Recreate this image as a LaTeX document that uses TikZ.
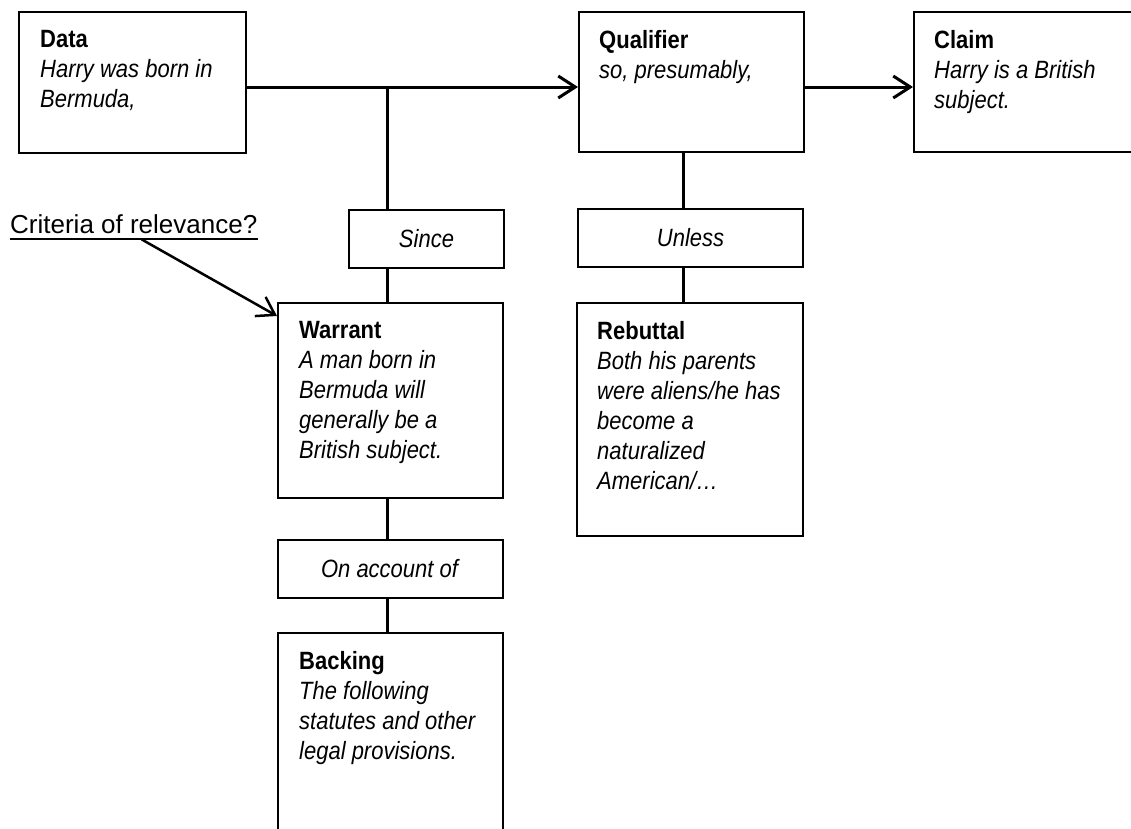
\documentclass[tikz,border=0pt]{standalone}
\usepackage{fontspec}
\setmainfont{Liberation Sans}[FakeStretch=0.88]
\newfontfamily\critfont{Liberation Sans}
\usetikzlibrary{arrows.meta, positioning}

\begin{document}
\begin{tikzpicture}[x=1pt, y=-1pt, font=\fontsize{25}{30}\selectfont,
    box/.style={draw, line width=2pt, inner sep=0pt},
    boxtext/.style={anchor=north west, inner sep=0pt, align=left, xshift=22pt, yshift=-19pt},
    link/.style={line width=3pt},
    arrow/.style={link, -{Straight Barb[length=17pt, width=22pt]}}]
    \clip (0,0) rectangle (1131,828);
    \fill[white] (0,0) rectangle (1131,828);
    % boxes
    \node[box, minimum width=227pt, minimum height=141pt] (data) at (132.5,82.5) {};
    \node[box, minimum width=225pt, minimum height=140pt] (qualifier) at (691.5,82) {};
    \node[box, minimum width=246pt, minimum height=140pt] (claim) at (1037,82) {};
    \node[box, minimum width=155pt, minimum height=58pt] (since) at (426.5,239) {\textit{Since}};
    \node[box, minimum width=225pt, minimum height=58pt] (unless) at (690.5,238) {\textit{Unless}};
    \node[box, minimum width=225pt, minimum height=195pt] (warrant) at (390.5,400.5) {};
    \node[box, minimum width=226pt, minimum height=233pt] (rebuttal) at (690,419.5) {};
    \node[box, minimum width=225pt, minimum height=58pt] (account) at (390.5,569) {\textit{On account of}};
    \node[box, minimum width=225pt, minimum height=237pt] (backing) at (390.5,751.5) {};
    % box texts
    \node[boxtext] (data-text) at (data.north west) {\textbf{Data}\\\textit{Harry was born in}\\\textit{Bermuda,}};
    \node[boxtext, xshift=-1pt] (qualifier-text) at (qualifier.north west) {\textbf{Qualifier}\\\textit{so, presumably,}};
    \node[boxtext, xshift=-1pt] (claim-text) at (claim.north west) {\textbf{Claim}\\\textit{Harry is a British}\\\textit{subject.}};
    \node[boxtext] (warrant-text) at (warrant.north west) {\textbf{Warrant}\\\textit{A man born in}\\\textit{Bermuda will}\\\textit{generally be a}\\\textit{British subject.}};
    \node[boxtext, xshift=-1pt] (rebuttal-text) at (rebuttal.north west) {\textbf{Rebuttal}\\\textit{Both his parents}\\\textit{were aliens/he has}\\\textit{become a}\\\textit{naturalized}\\\textit{American/…}};
    \node[boxtext] (backing-text) at (backing.north west) {\textbf{Backing}\\\textit{The following}\\\textit{statutes and other}\\\textit{legal provisions.}};
    \node[anchor=base west, inner xsep=0pt, inner ysep=6pt, font=\critfont\fontsize{26}{30}\selectfont] (criteria) at (10,233) {Criteria of relevance?};
    \draw[line width=2pt] (criteria.south west) -- (criteria.south east);
    % connectors
    \coordinate (join) at (387,87);
    \coordinate (q-foot) at ([xshift=-8.5pt]qualifier.south);
    \draw[link] (data.east |- join) -- (join);
    \draw[arrow] (join) -- (qualifier.west |- join);
    \draw[arrow] (qualifier.east |- join) -- (claim.west |- join);
    \draw[link] (join) -- (join |- since.north);
    \draw[link] (join |- since.south) -- (join |- warrant.north);
    \draw[link] (join |- warrant.south) -- (join |- account.north);
    \draw[link] (join |- account.south) -- (join |- backing.north);
    \draw[link] (q-foot) -- (q-foot |- unless.north);
    \draw[link] (q-foot |- unless.south) -- (q-foot |- rebuttal.north);
    \draw[arrow, line width=2.5pt] ([xshift=8pt]criteria.south) -- ([yshift=-14pt]warrant.north west);
\end{tikzpicture}
\end{document}
